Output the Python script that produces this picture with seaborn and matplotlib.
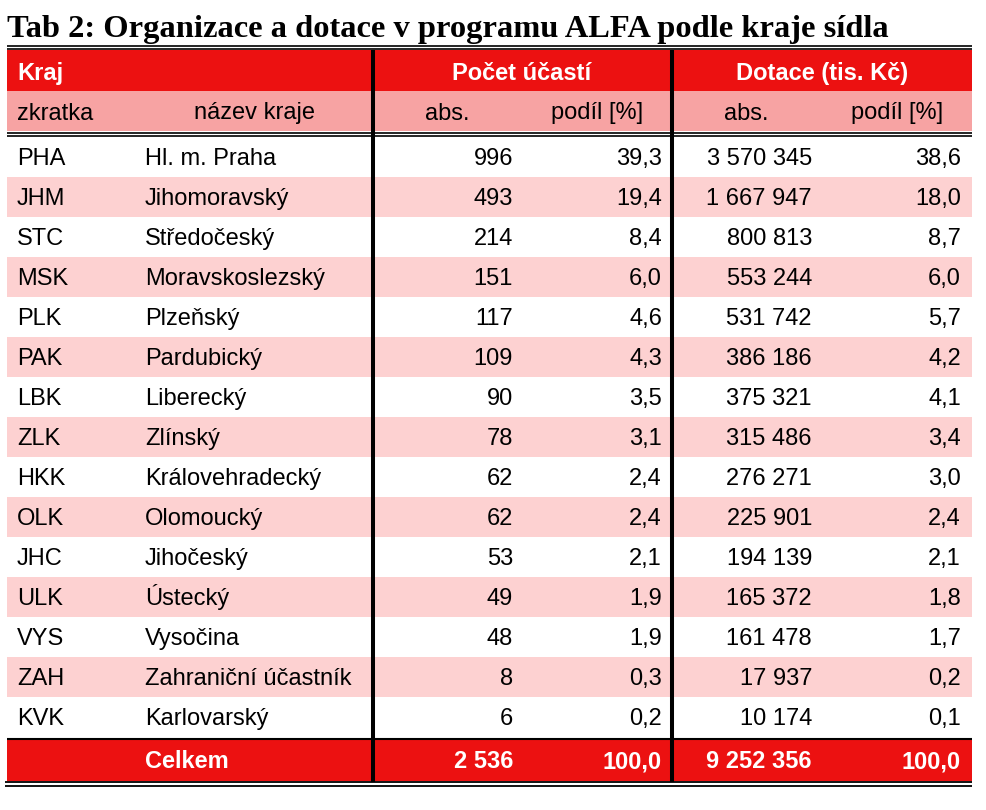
import matplotlib
matplotlib.use("Agg")
import matplotlib.pyplot as plt
from matplotlib.patches import Rectangle
from matplotlib.colors import ListedColormap
import numpy as np
import seaborn as sns

# ---------------- data ----------------
title = "Tab 2: Organizace a dotace v programu ALFA podle kraje sídla"
group_headers = ["Kraj", "Počet účastí", "Dotace (tis. Kč)"]
sub_headers = ["zkratka", "název kraje", "abs.", "podíl [%]", "abs.", "podíl [%]"]
codes = ["PHA", "JHM", "STC", "MSK", "PLK", "PAK", "LBK", "ZLK", "HKK", "OLK",
         "JHC", "ULK", "VYS", "ZAH", "KVK"]
names = ["Hl. m. Praha", "Jihomoravský", "Středočeský", "Moravskoslezský", "Plzeňský",
         "Pardubický", "Liberecký", "Zlínský", "Královehradecký", "Olomoucký",
         "Jihočeský", "Ústecký", "Vysočina", "Zahraniční účastník", "Karlovarský"]
count_abs = [996, 493, 214, 151, 117, 109, 90, 78, 62, 62, 53, 49, 48, 8, 6]
count_pct = [39.3, 19.4, 8.4, 6.0, 4.6, 4.3, 3.5, 3.1, 2.4, 2.4, 2.1, 1.9, 1.9, 0.3, 0.2]
grant_abs = [3570345, 1667947, 800813, 553244, 531742, 386186, 375321, 315486,
             276271, 225901, 194139, 165372, 161478, 17937, 10174]
grant_pct = [38.6, 18.0, 8.7, 6.0, 5.7, 4.2, 4.1, 3.4, 3.0, 2.4, 2.1, 1.8, 1.7, 0.2, 0.1]
total_label = "Celkem"
total_count_abs = 2536
total_count_pct = 100.0
total_grant_abs = 9252356
total_grant_pct = 100.0

# ---------------- style ----------------
RED = "#EC1111"
HEAD_PINK = "#F7A3A3"
ROW_PINK = "#FDD1D1"
FONT = "Liberation Sans"
FS = 17

def fmt_int(v):
    return f"{v:,}".replace(",", " ")

def fmt_pct(v):
    return f"{v:.1f}".replace(".", ",")

W, H = 987, 810
fig = plt.figure(figsize=(W / 100, H / 100), dpi=100)

# layout (pixel units)
X0, X1 = 7, 972
HEAD_TOP, HEAD_BOT = 50, 91
SUB_BOT = 131
BODY_TOP = 137
ROW_H = 40
n = len(codes)
BODY_BOT = BODY_TOP + ROW_H * n
TOT_TOP, TOT_BOT = BODY_BOT + 3, BODY_BOT + 44

# striped body via seaborn heatmap
bx = fig.add_axes([X0 / W, 1 - BODY_BOT / H, (X1 - X0) / W, (BODY_BOT - BODY_TOP) / H])
stripes = np.array([[i % 2] for i in range(n)])
sns.heatmap(stripes, ax=bx, cmap=ListedColormap(["white", ROW_PINK]), cbar=False,
            xticklabels=False, yticklabels=False, vmin=0, vmax=1)
bx.set_axis_off()

ax = fig.add_axes([0, 0, 1, 1])
ax.set_xlim(0, W)
ax.set_ylim(H, 0)
ax.set_axis_off()
ax.patch.set_visible(False)

# bands
ax.add_patch(Rectangle((X0, HEAD_TOP), X1 - X0, HEAD_BOT - HEAD_TOP, color=RED, lw=0))
ax.add_patch(Rectangle((X0, HEAD_BOT), X1 - X0, SUB_BOT - HEAD_BOT, color=HEAD_PINK, lw=0))
ax.add_patch(Rectangle((X0, TOT_TOP), X1 - X0, TOT_BOT - TOT_TOP, color=RED, lw=0))

# lines
def hline(y, lw, x0=X0, x1=X1):
    ax.plot([x0, x1], [y, y], color="black", lw=lw, solid_capstyle="butt")

hline(45.5, 1.2)
hline(48.8, 1.2)
hline(132.8, 1.2)
hline(136.0, 1.2)
hline(739, 1.5)
hline(782.2, 1.3, x0=5)
hline(786.0, 1.3, x0=5)
for xv in (373, 672):
    ax.plot([xv, xv], [HEAD_TOP, TOT_BOT + 1], color="black", lw=2.9, solid_capstyle="butt")

# title
ax.text(7, 37, title, family="Liberation Serif", weight="bold", fontsize=23.4,
        ha="left", va="baseline", color="black")

def t(x, y, s, ha="left", bold=False, color="black"):
    ax.text(x, y, s, family=FONT, fontsize=FS, ha=ha, va="baseline",
            weight="bold" if bold else "normal", color=color)

# header
t(17, 80, group_headers[0], bold=True, color="white")
t(522, 80, group_headers[1], ha="center", bold=True, color="white")
t(822, 80, group_headers[2], ha="center", bold=True, color="white")

# sub header
t(17, 119.5, sub_headers[0])
t(254, 119.5, sub_headers[1], ha="center")
t(447, 119.5, sub_headers[2], ha="center")
t(643, 119.5, sub_headers[3], ha="right")
t(746, 119.5, sub_headers[4], ha="center")
t(943, 119.5, sub_headers[5], ha="right")

# body
for i in range(n):
    yb = BODY_TOP + ROW_H * i + 28
    t(17, yb, codes[i])
    t(145, yb, names[i])
    t(513, yb, fmt_int(count_abs[i]), ha="right")
    t(662, yb, fmt_pct(count_pct[i]), ha="right")
    t(812, yb, fmt_int(grant_abs[i]), ha="right")
    t(961, yb, fmt_pct(grant_pct[i]), ha="right")

# total
yb = 768.5
t(145, yb, total_label, bold=True, color="white")
t(513, yb, fmt_int(total_count_abs), ha="right", bold=True, color="white")
t(662, yb, fmt_pct(total_count_pct), ha="right", bold=True, color="white")
t(812, yb, fmt_int(total_grant_abs), ha="right", bold=True, color="white")
t(961, yb, fmt_pct(total_grant_pct), ha="right", bold=True, color="white")

fig.savefig("out.png", dpi=100)
